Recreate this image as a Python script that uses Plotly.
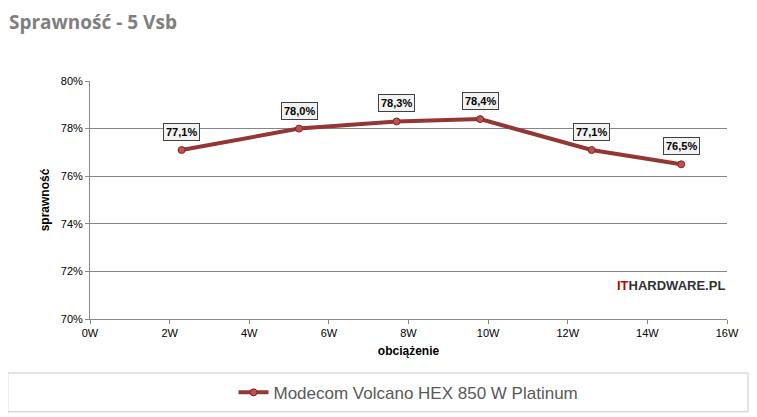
import plotly.graph_objects as go

load_w = [2.3, 5.25, 7.7, 9.8, 12.6, 14.85]
eff = [77.1, 78.0, 78.3, 78.4, 77.1, 76.5]
labels = ["77,1%", "78,0%", "78,3%", "78,4%", "77,1%", "76,5%"]
xticks = list(range(0, 17, 2))
yticks = [70, 72, 74, 76, 78, 80]
series_name = "Modecom Volcano HEX 850 W Platinum"

fig = go.Figure()
fig.add_trace(go.Scatter(x=load_w, y=eff, mode="lines+markers", name=series_name,
    line=dict(color="#943634", width=4),
    marker=dict(size=7, color="#c0504d", line=dict(color="#7a2a28", width=1))))
for x, y, t in zip(load_w, eff, labels):
    fig.add_annotation(x=x, y=y, text="<b>"+t+"</b>", showarrow=False, yshift=18,
        font=dict(family="Liberation Sans", size=11, color="#000"),
        bgcolor="#f2f2f2", bordercolor="#404040", borderwidth=1, borderpad=2)
fig.add_annotation(xref="paper", yref="paper", x=1.0, y=0.1, xanchor="right",
    text="<b><span style='color:#c00000'>IT</span>HARDWARE.PL</b>", showarrow=False,
    font=dict(family="Liberation Sans", size=13, color="#333"))
fig.add_annotation(xref="paper", yref="paper", x=-0.13, y=1.31, xanchor="left", yanchor="top",
    text="<b>Sprawność - 5 Vsb</b>", showarrow=False,
    font=dict(family="Open Sans", size=19, color="#7f7f7f"))
fig.add_shape(type="rect", xref="paper", yref="paper", x0=-0.129, x1=1.033, y0=-0.227, y1=-0.39,
    line=dict(color="#c8c8c8", width=1))
fig.update_layout(width=757, height=417, margin=dict(l=82, r=38, t=73, b=106, autoexpand=False),
    plot_bgcolor="white", paper_bgcolor="white", showlegend=True,
    legend=dict(orientation="h", x=0.5, xanchor="center", y=-0.31, yanchor="middle",
        font=dict(family="Liberation Sans", size=17, color="#595959")),
    xaxis=dict(range=[0, 16], tickvals=xticks, ticktext=[f"{v}W" for v in xticks],
        showgrid=False, showline=True, linecolor="#888", ticks="outside", ticklen=4, tickcolor="#888",
        tickfont=dict(family="Liberation Sans", size=11, color="#000"),
        title=dict(text="<b>obciążenie</b>", font=dict(family="Liberation Sans", size=12, color="#000"), standoff=8)),
    yaxis=dict(range=[70, 80], tickvals=yticks, ticktext=[f"{v}%" for v in yticks],
        showgrid=True, gridcolor="#868686", showline=True, linecolor="#888", ticks="outside", ticklen=4, tickcolor="#888",
        tickfont=dict(family="Liberation Sans", size=11, color="#000"),
        title=dict(text="<b>sprawność</b>", font=dict(family="Liberation Sans", size=12, color="#000"), standoff=8)))
fig.write_html("out.html")
